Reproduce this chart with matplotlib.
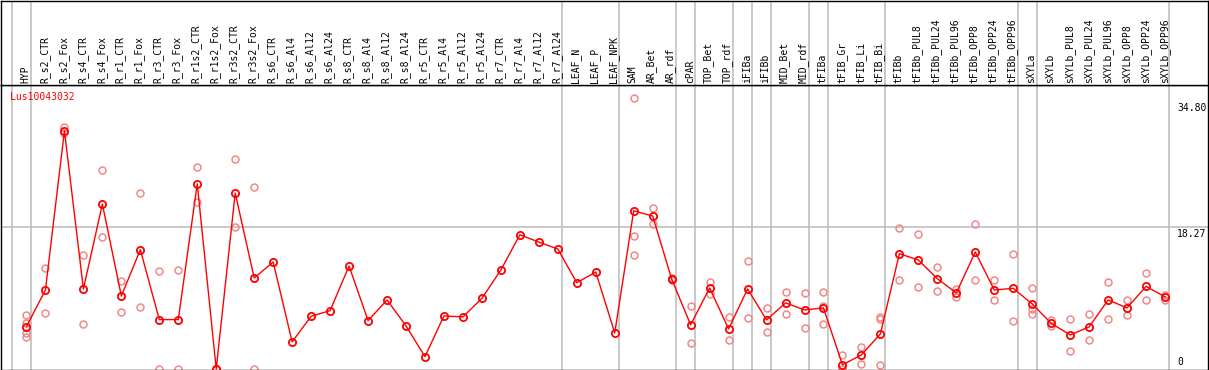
import numpy as np
import matplotlib
matplotlib.use("Agg")
import matplotlib.pyplot as plt

GENE = "Lus10043032"

samples = [
    "HYP",
    "R_s2_CTR", "R_s2_Fox", "R_s4_CTR", "R_s4_Fox", "R_r1_CTR", "R_r1_Fox",
    "R_r3_CTR", "R_r3_Fox", "R_r1s2_CTR", "R_r1s2_Fox", "R_r3s2_CTR", "R_r3s2_Fox",
    "R_s6_CTR", "R_s6_Al4", "R_s6_Al12", "R_s6_Al24",
    "R_s8_CTR", "R_s8_Al4", "R_s8_Al12", "R_s8_Al24",
    "R_r5_CTR", "R_r5_Al4", "R_r5_Al12", "R_r5_Al24",
    "R_r7_CTR", "R_r7_Al4", "R_r7_Al12", "R_r7_Al24",
    "LEAF_N", "LEAF_P", "LEAF_NPK",
    "SAM", "AR_Bet", "AR_rdf",
    "cPAR",
    "TOP_Bet", "TOP_rdf",
    "iFIBa",
    "iFIBb",
    "MID_Bet", "MID_rdf",
    "tFIBa",
    "tFIB_Gr", "tFIB_Li", "tFIB_Bi",
    "tFIBb", "tFIBb_PUL8", "tFIBb_PUL24", "tFIBb_PUL96",
    "tFIBb_OPP8", "tFIBb_OPP24", "tFIBb_OPP96",
    "sXYLa",
    "sXYLb", "sXYLb_PUL8", "sXYLb_PUL24", "sXYLb_PUL96",
    "sXYLb_OPP8", "sXYLb_OPP24", "sXYLb_OPP96",
]

# number of samples in each tissue group (grey separators between them)
group_sizes = [1, 28, 3, 3, 1, 2, 1, 1, 2, 1, 3, 7, 1, 7]

means = [
    5.45,
    10.15, 30.6, 10.28, 21.18, 9.38, 15.32,
    6.35, 6.35, 23.78, 0.0, 22.59, 11.69,
    13.74, 3.49, 6.77, 7.5,
    13.23, 6.22, 8.87, 5.54,
    1.6, 6.82, 6.69, 9.08,
    12.72, 17.24, 16.3, 15.41,
    11.09, 12.46, 4.64,
    20.32, 19.64, 11.56,
    5.67,
    10.41, 5.15,
    10.28,
    6.31,
    8.49, 7.59,
    7.85,
    0.54, 1.82, 4.51,
    14.81, 14.0, 11.6, 9.77,
    15.03, 10.15, 10.36,
    8.36,
    5.87, 4.38, 5.41, 8.87,
    7.85, 10.62, 9.26,
]

replicates = [
    [6.99, 5.92, 4.64, 4.13],
    [12.97, 7.2], [31.13, 30.36], [14.64, 5.79], [25.54, 16.95], [11.31, 7.33], [22.59, 7.92],
    [12.59, 0.06], [12.72, 0.06], [25.92, 21.51], [0.0, 0.0], [26.95, 18.23], [23.36, 0.0],
    [], [], [], [],
    [], [], [], [],
    [], [], [], [],
    [], [], [], [],
    [], [], [],
    [34.8, 17.08, 14.64], [20.67, 18.62], [11.7, 11.4],
    [8.1, 3.36],
    [11.18, 9.59], [6.64, 3.74],
    [13.87, 6.56],
    [7.85, 4.72],
    [9.9, 7.08], [9.77, 5.28],
    [9.9, 8.14, 5.79],
    [1.82, 0.0], [2.88, 0.62], [6.69, 6.44, 0.54],
    [18.14, 11.44], [17.33, 10.54], [13.1, 10.03], [10.32, 9.26],
    [18.62, 11.44], [11.44, 8.87], [14.81, 6.18],
    [10.41, 7.72, 7.08],
    [6.35, 5.49], [6.44, 2.33], [7.12, 3.78], [11.18, 6.44],
    [8.87, 6.95], [12.33, 8.87], [9.55, 8.87],
]

y_ticks = [0.0, 18.27, 34.80]

W, H = 1209, 370
HEAD = 85  # header height in pixels
RED = "#ff0000"
PINK = "#f08888"
GREY = "#c0c0c0"
FONT = "DejaVu Sans Mono"

fig = plt.figure(figsize=(W / 100, H / 100), dpi=100)
ax = fig.add_axes([0.5 / W, 0.5 / H, 1 - 1.5 / W, (H - HEAD - 0.5) / H])
head = fig.add_axes([0.5 / W, (H - HEAD) / H, 1 - 1.5 / W, (HEAD - 1) / H], sharex=ax)

x = np.arange(len(samples))
ax.set_xlim(-26 / 19, (W - 26) / 19)
ax.set_ylim(-0.06, 36.47)

# group separators
bounds = np.cumsum([0] + group_sizes) - 1 + 0.23
for b in bounds:
    ax.axvline(b, color=GREY, lw=1.2, zorder=1)
    head.axvline(b, color=GREY, lw=1.2, zorder=1)
ax.axhline(y_ticks[1], color=GREY, lw=1.2, zorder=1)

# replicate points
rx = [i for i, r in enumerate(replicates) for _ in r]
ry = [v for r in replicates for v in r]
ax.plot(rx, ry, "o", ms=5, mfc="none", mec=PINK, mew=1.1, zorder=2)

# mean profile
ax.plot(x, means, "-", color=RED, lw=1.0, zorder=3)
ax.plot(x, means, "o", ms=5.2, mfc="none", mec=RED, mew=1.3, zorder=4)

ax.text(10 / W, 1 - 7 / (H - HEAD), GENE, transform=ax.transAxes, color=RED,
        fontsize=7, family=FONT, ha="left", va="top")

# value labels on the right
tick_x = (1178 - 26) / 19
ax.annotate(f"{y_ticks[2]:.2f}", (tick_x, y_ticks[2]), xytext=(0, -5),
            textcoords="offset pixels", fontsize=7, family=FONT, ha="left", va="top")
ax.annotate(f"{y_ticks[1]:.2f}", (tick_x, y_ticks[1]), xytext=(0, -2),
            textcoords="offset pixels", fontsize=7, family=FONT, ha="left", va="top")
ax.annotate("0", (tick_x, y_ticks[0]), xytext=(0, 2),
            textcoords="offset pixels", fontsize=7, family=FONT, ha="left", va="bottom")

head.set_ylim(0, HEAD)
for i, name in enumerate(samples):
    head.text(i - 0.05, 2.5, name, rotation=90, fontsize=7, family=FONT,
              ha="center", va="bottom")

for a in (ax, head):
    a.set_xticks([])
    a.set_yticks([])
    for s in a.spines.values():
        s.set_color("black")
        s.set_linewidth(1.0)

fig.savefig("out.png", dpi=100)
